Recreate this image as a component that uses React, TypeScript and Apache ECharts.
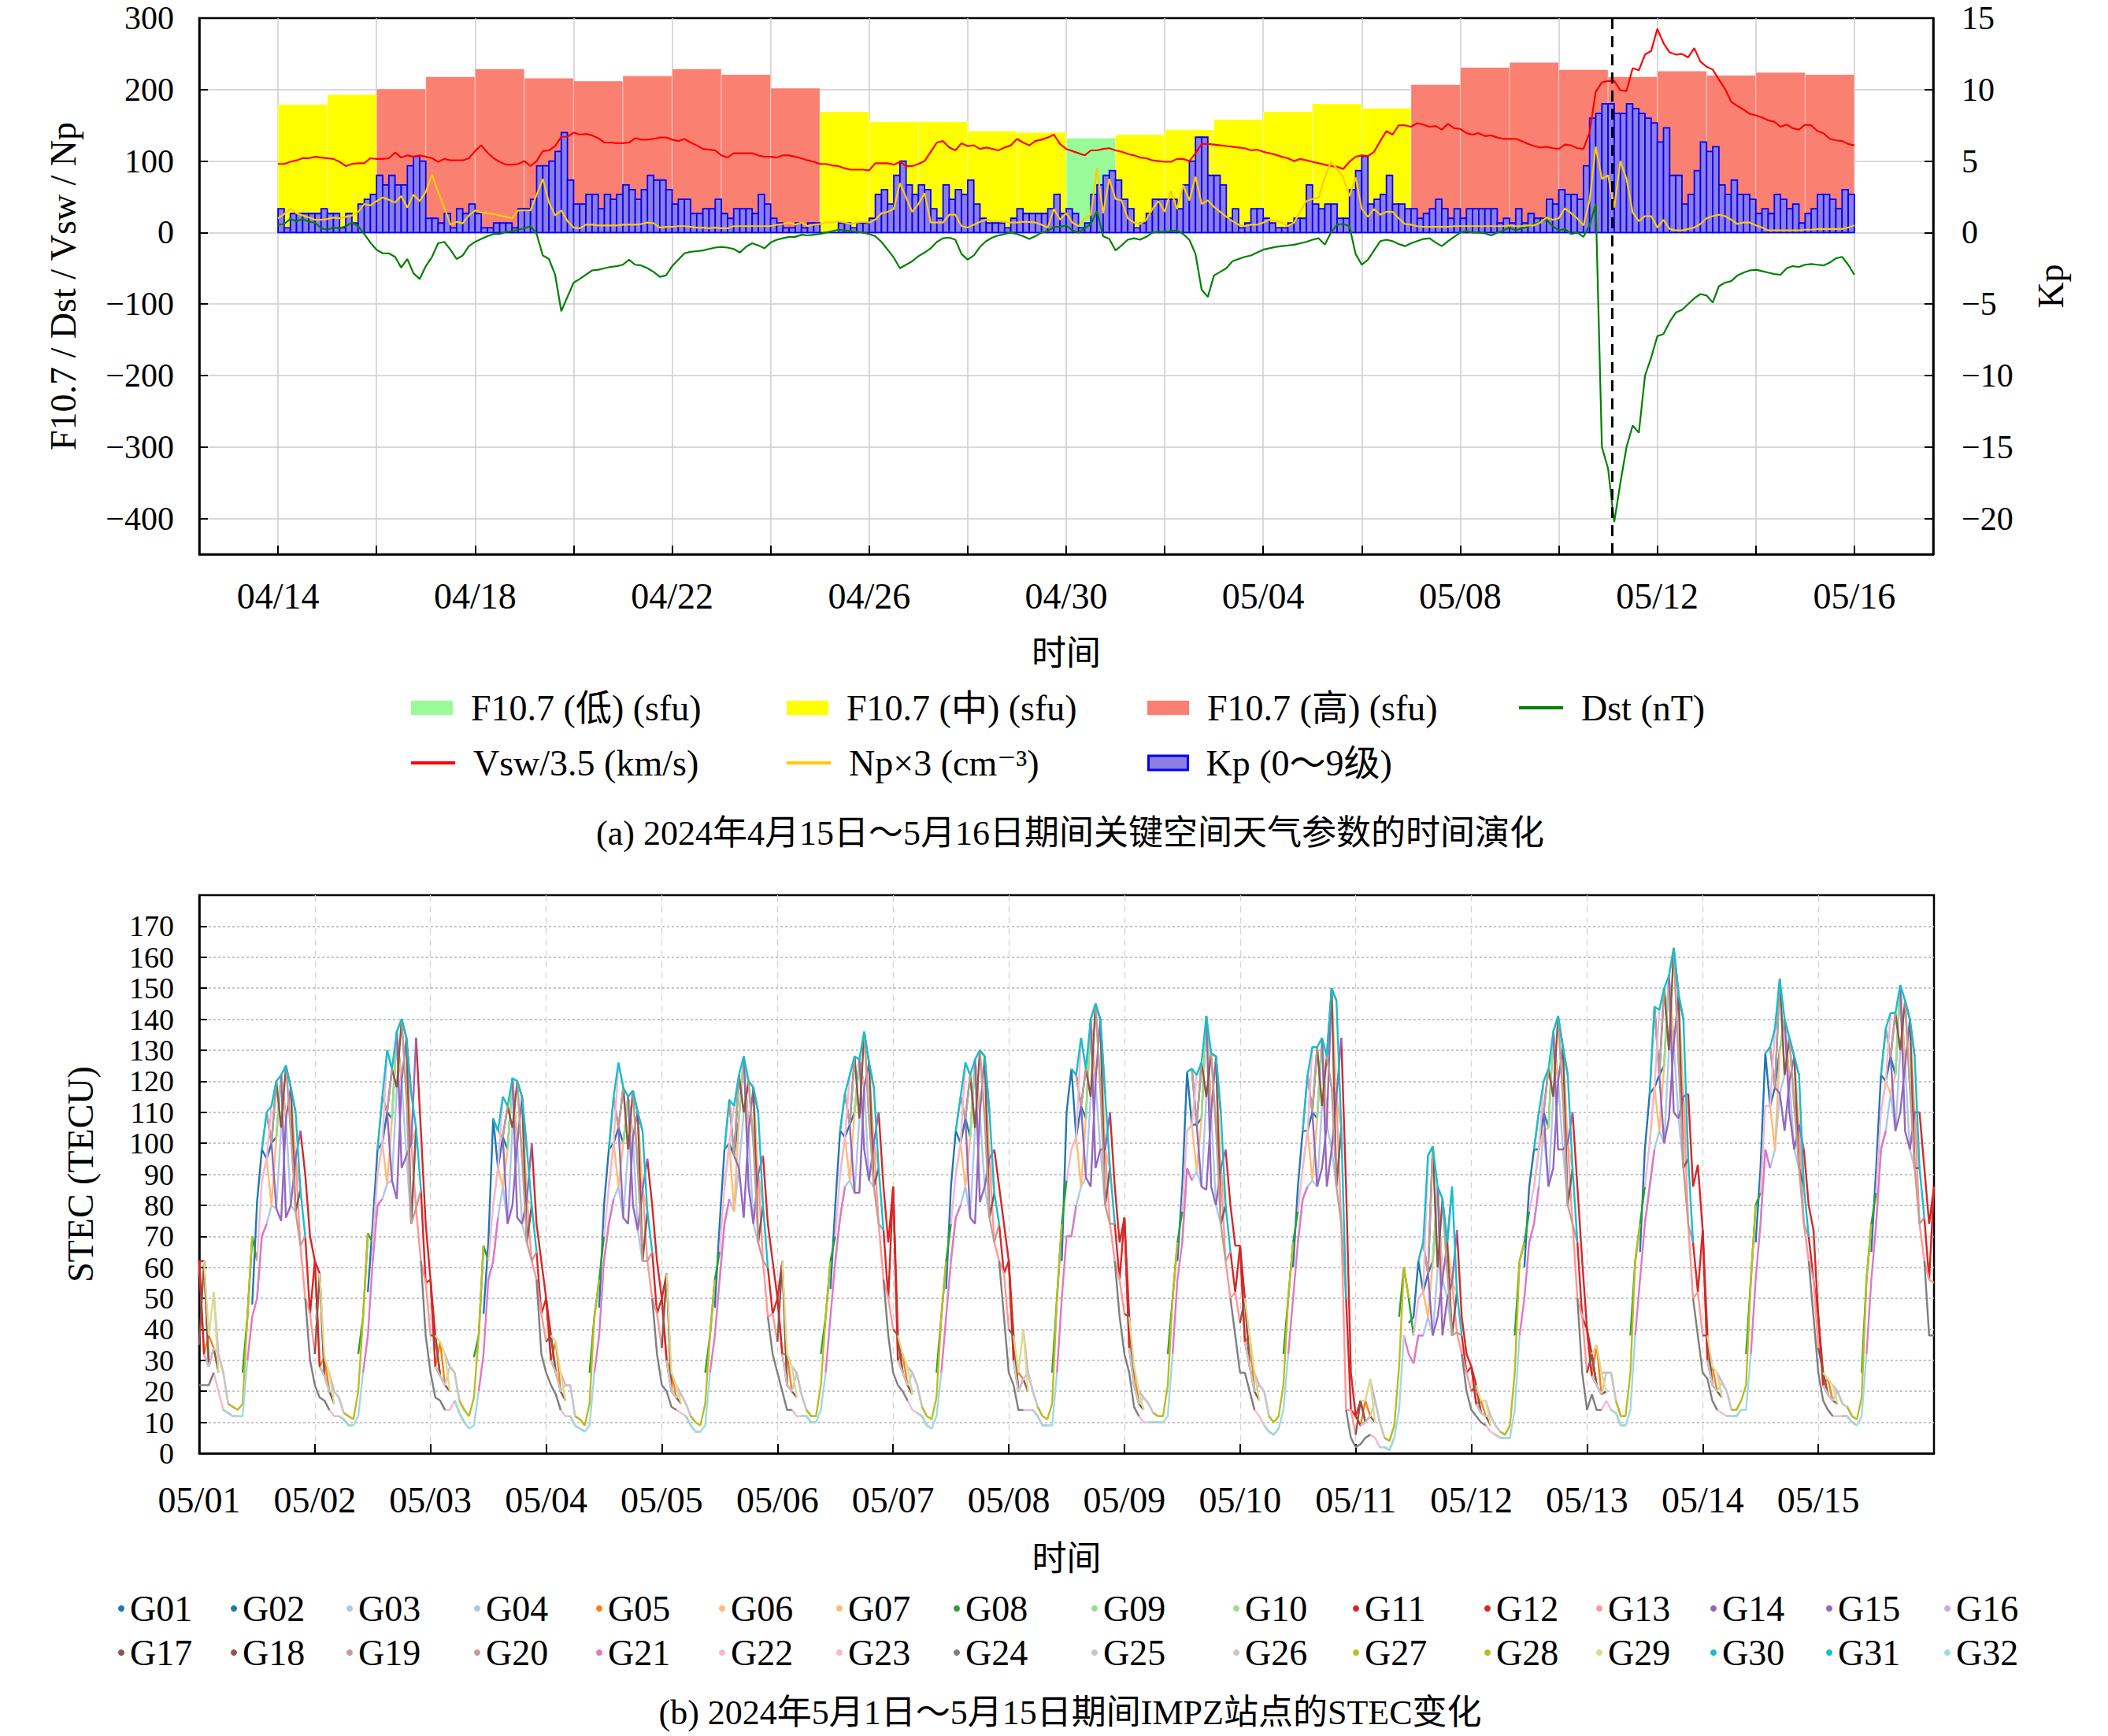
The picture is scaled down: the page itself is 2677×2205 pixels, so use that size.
import React, { useEffect, useRef } from "react";
import * as echarts from "echarts";

// ---------------- Panel (a) data ----------------
// Daily F10.7 (sfu), 2024-04-14 .. 2024-05-15
const F107_DAILY = [179, 193, 201, 218, 229, 216, 212, 219, 229, 221, 202, 169, 155, 155, 142, 140,
  132, 137, 144, 158, 169, 180, 174, 207, 231, 238, 228, 218, 226, 220, 224, 221];
const F107_LOW_MAX = 135;
const F107_HIGH_MIN = 200;

// 3-hourly Kp, 2024-04-14 00UT .. 2024-05-15 21UT
const KP_3H = [
  1.67, 0.33, 1.33, 1.33, 1.33, 1.33, 1.33, 1.67,
  1.33, 1.33, 0.33, 1.33, 0.67, 2.0, 2.33, 2.67,
  4.0, 3.33, 4.0, 3.33, 3.33, 4.67, 5.33, 5.0,
  1.0, 1.0, 0.67, 1.33, 0.33, 1.67, 1.33, 2.0,
  1.33, 0.33, 0.33, 0.67, 0.67, 0.67, 0.33, 1.67,
  1.67, 2.33, 4.67, 4.67, 5.0, 5.67, 7.0, 3.67,
  2.0, 2.0, 2.67, 2.67, 1.67, 2.67, 2.33, 2.67,
  3.33, 3.0, 2.33, 3.0, 4.0, 3.67, 3.67, 3.0,
  2.0, 2.33, 2.33, 1.33, 1.33, 1.67, 1.67, 2.33,
  1.33, 1.0, 1.67, 1.67, 1.67, 1.33, 2.67, 2.0,
  1.0, 0.67, 0.33, 0.33, 0.67, 0.33, 0.67, 0.67,
  0, 0, 0, 0.67, 0.67, 0.33, 0.67, 0.67,
  1.0, 2.67, 3.0, 2.0, 4.0, 5.0, 3.33, 2.67,
  3.33, 3.0, 1.67, 1.0, 3.33, 2.33, 3.0, 2.67,
  3.67, 2.0, 1.0, 0.67, 0.67, 0.67, 0.33, 1.0,
  1.67, 1.33, 1.33, 1.33, 1.33, 1.67, 2.67, 1.33,
  1.67, 1.33, 0.33, 0.67, 2.67, 3.33, 4.0, 4.33,
  3.67, 2.33, 1.67, 0.33, 0.67, 1.33, 2.33, 2.33,
  2.33, 2.33, 1.67, 3.33, 5.0, 6.67, 6.67, 4.0,
  4.0, 3.33, 1.0, 1.67, 0.33, 0.67, 1.67, 1.67,
  1.0, 0.67, 0.33, 0.33, 0.67, 1.0, 1.0, 3.33,
  2.0, 1.67, 2.0, 2.0, 1.0, 1.0, 3.0, 4.33,
  5.33, 2.0, 2.33, 2.67, 4.0, 2.0, 2.0, 1.67,
  1.67, 1.0, 1.33, 1.67, 2.33, 1.67, 1.0, 1.67,
  1.0, 1.67, 1.67, 1.67, 1.67, 1.67, 0.67, 1.0,
  0.67, 1.67, 0.67, 1.33, 1.0, 1.0, 2.33, 2.0,
  3.0, 2.67, 2.67, 2.33, 4.67, 8.0, 8.33, 9.0,
  9.0, 8.33, 8.33, 9.0, 8.67, 8.33, 8.0, 7.67,
  6.33, 7.33, 4.0, 4.0, 2.0, 2.67, 4.33, 6.33,
  5.67, 6.0, 3.33, 2.67, 3.67, 2.67, 2.67, 2.33,
  1.33, 1.67, 1.33, 2.67, 2.33, 1.67, 2.0, 0.67,
  1.33, 1.67, 2.67, 2.67, 2.33, 1.67, 3.0, 2.67,
];

// 3-hourly samples, 2024-04-14 00UT .. 2024-05-16 00UT
const VSW_DIV_3_5 = [
  96, 96, 99, 101, 104, 104, 106, 105, 104, 103, 99, 93, 96, 97, 97, 104,
  103, 103, 104, 112, 105, 108, 106, 108, 106, 104, 99, 103, 101, 101, 101, 104,
  114, 122, 112, 104, 99, 95, 95, 96, 100, 93, 100, 114, 115, 121, 134, 134,
  140, 137, 138, 136, 132, 126, 126, 125, 125, 126, 132, 130, 130, 131, 133, 133,
  130, 128, 131, 126, 122, 117, 116, 115, 108, 105, 111, 111, 111, 111, 108, 106,
  106, 105, 108, 108, 106, 104, 101, 99, 96, 96, 94, 93, 90, 88, 88, 88,
  87, 97, 97, 97, 95, 99, 93, 93, 96, 100, 113, 126, 128, 119, 115, 125,
  121, 122, 117, 119, 117, 115, 119, 122, 131, 126, 122, 128, 130, 133, 137, 124,
  117, 114, 111, 108, 115, 115, 117, 118, 115, 113, 110, 108, 105, 104, 101, 100,
  99, 99, 103, 103, 100, 111, 124, 124, 123, 122, 121, 120, 119, 118, 115, 116,
  113, 111, 109, 106, 104, 100, 103, 101, 99, 97, 95, 93, 92, 89, 99, 106,
  108, 107, 113, 128, 142, 137, 150, 150, 148, 153, 151, 148, 149, 144, 152, 146,
  145, 139, 137, 139, 135, 136, 133, 131, 131, 131, 128, 124, 121, 119, 120, 118,
  117, 123, 122, 118, 117, 140, 197, 210, 212, 212, 199, 198, 230, 227, 249, 254,
  285, 265, 252, 249, 250, 245, 258, 239, 232, 228, 214, 201, 183, 177, 172, 166,
  164, 161, 157, 155, 148, 151, 146, 144, 151, 150, 142, 139, 131, 129, 128, 124,
  122,
];

const NP_X3 = [
  20, 26, 33, 27, 24, 21, 18, 18, 19, 21, 20, 22, 24, 29, 40, 38,
  44, 49, 46, 42, 51, 35, 53, 44, 57, 81, 57, 35, 11, 15, 13, 24,
  31, 28, 27, 26, 24, 22, 20, 31, 31, 31, 53, 75, 42, 24, 31, 16,
  7, 6, 11, 11, 10, 10, 10, 10, 11, 11, 11, 12, 14, 13, 7, 8,
  8, 9, 9, 8, 7, 7, 6, 7, 6, 6, 9, 9, 9, 9, 9, 9,
  9, 11, 12, 14, 11, 14, 9, 11, 12, 14, 14, 16, 14, 12, 14, 15,
  14, 18, 27, 29, 33, 69, 49, 29, 40, 55, 14, 14, 14, 25, 25, 9,
  7, 11, 15, 18, 16, 16, 15, 14, 14, 15, 15, 14, 11, 7, 33, 18,
  27, 14, 9, 20, 25, 90, 27, 75, 47, 45, 20, 14, 12, 18, 33, 44,
  29, 58, 33, 66, 45, 78, 40, 45, 36, 29, 22, 16, 11, 9, 11, 11,
  14, 18, 16, 14, 9, 14, 29, 44, 47, 49, 77, 99, 89, 77, 51, 77,
  33, 22, 33, 25, 29, 29, 20, 12, 11, 9, 8, 8, 8, 8, 8, 9,
  9, 9, 9, 9, 9, 9, 9, 9, 10, 9, 9, 10, 10, 14, 21, 18,
  20, 34, 27, 20, 10, 45, 120, 75, 80, 35, 100, 75, 28, 16, 23, 23,
  7, 18, 5, 3, 3, 5, 7, 12, 20, 23, 25, 23, 18, 12, 14, 14,
  10, 7, 3, 3, 3, 3, 3, 3, 4, 4, 5, 5, 5, 5, 5, 7,
  10,
];

const DST = [
  11, 12, 19, 16, 19, 15, 14, 6, 4, 7, 6, 9, 14, 9, -2, -14,
  -24, -29, -29, -34, -49, -37, -57, -65, -47, -34, -15, -13, -24, -37, -32, -19,
  -13, -9, -5, -2, -2, 1, 2, 4, 6, 9, -2, -32, -37, -59, -110, -90,
  -70, -65, -59, -53, -52, -50, -48, -47, -45, -38, -45, -46, -50, -55, -62, -60,
  -47, -38, -29, -27, -26, -25, -23, -21, -20, -21, -23, -28, -20, -15, -18, -22,
  -14, -10, -8, -6, -6, -3, -4, -3, -2, 0, 2, 4, 3, 2, 1, 0,
  -2, -5, -13, -24, -35, -50, -45, -40, -33, -28, -22, -13, -8, -7, -10, -30,
  -38, -32, -20, -12, -7, -4, -2, 0, -2, -5, -9, -5, 0, 2, 8, 8,
  10, 3, 0, 6, 12, 30, -5, -9, -25, -18, -10, -8, -10, -6, 0, 1,
  1, 2, 3, -2, -10, -30, -80, -90, -60, -55, -50, -40, -37, -34, -32, -28,
  -24, -22, -20, -19, -18, -17, -15, -13, -10, -8, -17, 0, 11, 12, 9, -30,
  -45, -38, -25, -12, -10, -12, -16, -19, -15, -12, -9, -8, -14, -19, -12, -6,
  0, 2, 0, 0, -1, -4, 0, 3, 7, 3, 6, 8, 12, 15, 18, 9,
  3, 5, -2, 0, -6, 10, 40, -300, -330, -405, -350, -300, -270, -280, -200, -175,
  -145, -142, -125, -112, -108, -100, -92, -86, -88, -98, -75, -70, -68, -60, -56, -53,
  -52, -54, -56, -58, -59, -50, -47, -48, -45, -44, -45, -46, -42, -36, -34, -45,
  -59,
];

// Dst minimum marker: 2024-05-11 02:00 UT, in days after 04-14 00UT
const STORM_MARK_DAY = 27 + 2 / 24;

const TOP_START_UTC = Date.UTC(2024, 3, 14);
const BOTTOM_START_UTC = Date.UTC(2024, 4, 1);

// ---------------- Panel (b) data ----------------
const SATS = ["G01", "G02", "G03", "G04", "G05", "G06", "G07", "G08", "G09", "G10", "G11", "G12", "G13", "G14", "G15", "G16",
  "G17", "G18", "G19", "G20", "G21", "G22", "G23", "G24", "G25", "G26", "G27", "G28", "G29", "G30", "G31", "G32"];
const SAT_COLORS = ["#1f77b4", "#1f77b4", "#aec7e8", "#aec7e8", "#ff7f0e", "#ffbb78", "#ffbb78", "#2ca02c",
  "#98df8a", "#98df8a", "#d62728", "#d62728", "#ff9896", "#9467bd", "#9467bd", "#c5b0d5",
  "#8c564b", "#8c564b", "#c49c94", "#c49c94", "#e377c2", "#f7b6d2", "#f7b6d2", "#7f7f7f",
  "#c7c7c7", "#c7c7c7", "#bcbd22", "#bcbd22", "#dbdb8d", "#17becf", "#17becf", "#9edae5"];
// Daily visibility window of each satellite: [first UT hour, track level per hour (H/M/L)]
const SAT_PASSES: [number, string][] = [
  [11, "MHHMMH"], [14, "HMMHM"], [12, "LLLLLM"], [18, "MLLM"], [0, "HMHM"], [13, "MMLMHM"], [19, "HMM"], [9, "HHHM"],
  [15, "HHM"], [16, "MHHM"], [21, "HHHHMM"], [22, "MMHHM"], [19, "MMLLMM"], [15, "MLLMHH"], [17, "HLLMH"], [3, "HHHMM"],
  [16, "HMHHLM"], [0, "MHMMM"], [18, "HMLLM"], [13, "HHMH"], [10, "LLLLL"], [2, "LLLLLL"], [12, "MMMH"], [22, "LLLLLL"],
  [1, "MMMHH"], [4, "HHMMM"], [6, "MMMMHH"], [5, "LLLL"], [1, "HHHM"], [13, "HHHHHHH"], [19, "HHMM"], [5, "LLLLLL"],
];

// Hourly STEC levels (TECU), 05-01 00UT .. 05-16 00UT
const STEC_LOW = [
  22, 22, 22, 26, 20, 14, 13, 12, 12, 12, 30, 44, 50, 70, 74, 80, 79, 75, 76, 80, 78, 67, 50, 30,
  22, 18, 17, 14, 12, 12, 11, 9, 9, 12, 26, 38, 62, 80, 82, 87, 88, 82, 92, 96, 74, 79, 62, 38,
  26, 18, 17, 14, 14, 17, 13, 10, 8, 9, 20, 32, 56, 62, 76, 86, 74, 80, 76, 74, 68, 62, 56, 32,
  26, 22, 19, 14, 12, 12, 9, 8, 7, 9, 26, 38, 62, 74, 82, 86, 76, 74, 80, 72, 62, 62, 50, 32,
  22, 20, 15, 14, 13, 12, 9, 7, 7, 9, 26, 38, 56, 74, 82, 78, 92, 76, 86, 74, 68, 62, 44, 32,
  26, 20, 14, 14, 12, 12, 12, 10, 10, 14, 26, 44, 62, 76, 86, 88, 84, 84, 98, 88, 86, 74, 56, 38,
  26, 22, 20, 17, 14, 13, 12, 9, 8, 12, 26, 44, 62, 76, 80, 86, 76, 74, 81, 86, 76, 68, 62, 44,
  26, 22, 14, 14, 14, 14, 12, 9, 9, 9, 26, 50, 70, 70, 80, 86, 89, 86, 92, 98, 80, 74, 62, 44,
  32, 26, 15, 12, 10, 10, 10, 10, 10, 12, 32, 56, 68, 92, 88, 91, 86, 85, 86, 80, 74, 62, 50, 38,
  26, 26, 20, 14, 12, 9, 7, 6, 8, 14, 32, 50, 68, 82, 86, 88, 86, 92, 86, 98, 86, 74, 14, 5,
  2, 3, 5, 6, 5, 2, 2, 1, 5, 14, 38, 32, 29, 38, 38, 44, 38, 44, 38, 50, 38, 39, 32, 20,
  14, 12, 10, 9, 7, 6, 5, 5, 5, 14, 38, 50, 68, 74, 86, 104, 86, 92, 98, 98, 80, 74, 50, 26,
  14, 19, 14, 14, 17, 14, 13, 9, 9, 14, 38, 56, 74, 86, 98, 104, 100, 108, 110, 108, 92, 74, 50, 38,
  26, 24, 17, 14, 13, 12, 12, 12, 14, 14, 32, 56, 74, 98, 92, 98, 116, 104, 110, 98, 92, 74, 62, 44,
  26, 17, 14, 12, 12, 12, 12, 10, 9, 12, 32, 56, 74, 98, 104, 116, 104, 110, 104, 98, 92, 74, 62, 38,
  38,
];
const STEC_MID = [
  35, 32, 28, 34, 26, 20, 16, 15, 14, 16, 38, 48, 62, 88, 95, 100, 102, 105, 108, 104, 95, 85, 70, 45,
  32, 28, 25, 20, 16, 14, 13, 12, 11, 20, 35, 52, 68, 90, 100, 110, 108, 118, 120, 115, 100, 105, 85, 55,
  38, 28, 25, 22, 20, 20, 17, 14, 12, 18, 30, 45, 62, 80, 92, 102, 98, 105, 100, 95, 82, 80, 65, 45,
  36, 30, 26, 20, 17, 16, 12, 11, 9, 16, 35, 47, 70, 86, 100, 105, 100, 98, 102, 92, 85, 78, 65, 45,
  34, 30, 20, 18, 16, 14, 12, 10, 9, 16, 32, 47, 65, 86, 100, 96, 108, 110, 104, 100, 90, 80, 60, 45,
  36, 32, 22, 20, 18, 15, 14, 12, 12, 22, 35, 53, 70, 90, 102, 106, 110, 108, 118, 108, 100, 92, 72, 50,
  40, 30, 26, 22, 19, 17, 15, 12, 11, 18, 35, 53, 74, 90, 100, 108, 102, 105, 110, 108, 95, 84, 74, 58,
  40, 30, 20, 24, 20, 17, 15, 12, 11, 16, 38, 62, 88, 98, 102, 112, 108, 115, 120, 118, 98, 92, 74, 56,
  45, 34, 22, 16, 14, 13, 13, 12, 12, 22, 42, 62, 78, 104, 106, 106, 108, 115, 110, 105, 92, 80, 65, 52,
  42, 36, 28, 20, 17, 14, 12, 10, 12, 22, 42, 60, 78, 92, 104, 110, 108, 112, 106, 118, 115, 105, 50, 14,
  6, 9, 10, 12, 10, 6, 5, 4, 9, 28, 48, 42, 38, 50, 52, 58, 62, 60, 56, 58, 55, 52, 38, 26,
  20, 16, 13, 12, 9, 7, 7, 6, 9, 26, 50, 60, 78, 86, 98, 110, 105, 115, 120, 114, 100, 92, 68, 44,
  26, 25, 22, 19, 20, 19, 17, 12, 12, 26, 50, 65, 86, 100, 118, 122, 125, 130, 132, 126, 115, 95, 68, 52,
  38, 30, 22, 20, 18, 16, 14, 14, 17, 22, 44, 68, 84, 112, 112, 118, 130, 122, 120, 112, 106, 86, 70, 56,
  34, 22, 19, 17, 16, 14, 15, 12, 11, 18, 44, 65, 84, 110, 120, 128, 122, 130, 125, 118, 110, 92, 76, 56,
  55,
];
const STEC_HIGH = [
  62, 62, 38, 52, 32, 26, 20, 19, 20, 26, 44, 70, 81, 98, 110, 112, 120, 122, 125, 118, 110, 104, 90, 70,
  62, 58, 31, 26, 20, 18, 15, 15, 14, 32, 44, 71, 74, 98, 115, 130, 124, 136, 140, 134, 116, 134, 104, 74,
  56, 38, 36, 32, 28, 26, 22, 20, 16, 31, 38, 67, 68, 108, 104, 115, 112, 121, 120, 115, 98, 100, 74, 62,
  50, 38, 36, 26, 22, 22, 16, 14, 12, 26, 44, 56, 80, 98, 115, 126, 118, 115, 117, 110, 104, 95, 80, 62,
  50, 58, 26, 22, 19, 16, 15, 14, 12, 26, 38, 56, 74, 98, 114, 112, 122, 128, 120, 118, 110, 96, 74, 62,
  50, 62, 32, 28, 26, 19, 16, 15, 14, 32, 44, 62, 80, 104, 116, 122, 128, 127, 136, 126, 118, 110, 86, 68,
  86, 38, 32, 28, 26, 22, 19, 16, 14, 26, 44, 62, 86, 104, 115, 126, 122, 127, 130, 128, 110, 98, 86, 74,
  62, 38, 26, 40, 26, 20, 18, 15, 14, 26, 50, 74, 110, 124, 122, 134, 124, 140, 145, 140, 116, 110, 86, 68,
  76, 44, 28, 20, 18, 16, 16, 15, 14, 32, 50, 68, 86, 123, 124, 122, 126, 141, 129, 128, 110, 98, 80, 67,
  67, 50, 38, 26, 22, 20, 18, 14, 16, 32, 50, 68, 86, 104, 122, 131, 131, 134, 128, 150, 146, 134, 86, 26,
  12, 17, 17, 24, 17, 10, 9, 9, 14, 44, 60, 50, 44, 62, 68, 96, 99, 86, 82, 68, 86, 72, 44, 32,
  28, 22, 17, 17, 12, 9, 9, 8, 14, 38, 62, 68, 86, 98, 110, 120, 124, 136, 141, 131, 122, 110, 86, 62,
  40, 32, 35, 26, 26, 26, 22, 14, 14, 38, 62, 74, 98, 116, 144, 143, 150, 154, 163, 148, 140, 116, 86, 93,
  72, 38, 28, 26, 23, 20, 16, 16, 20, 32, 56, 80, 92, 129, 131, 137, 153, 140, 134, 128, 122, 98, 80, 72,
  44, 26, 24, 22, 20, 16, 19, 15, 14, 26, 56, 74, 92, 122, 137, 142, 142, 151, 146, 140, 128, 110, 92, 74,
  86,
];

// ---------------- Texts ----------------
const CAPTION_A = "(a) 2024年4月15日～5月16日期间关键空间天气参数的时间演化";
const CAPTION_B = "(b) 2024年5月1日～5月15日期间IMPZ站点的STEC变化";
const NAME_LOW = "F10.7 (低) (sfu)";
const NAME_MID = "F10.7 (中) (sfu)";
const NAME_HIGH = "F10.7 (高) (sfu)";
const NAME_DST = "Dst (nT)";
const NAME_VSW = "Vsw/3.5 (km/s)";
const NAME_NP = "Np×3 (cm⁻³)";
const NAME_KP = "Kp (0～9级)";

const FONT = "'Liberation Serif', 'DejaVu Serif', 'Noto Sans CJK SC', serif";
const FS = 46;
const FS_CAP = 44;
const FS_YTOP = 42;
const FS_YSTEC = 38;
const KP_FILL = "#8e7de3";

function mmdd(startUtc: number, dayOffset: number) {
  const d = new Date(startUtc + Math.round(dayOffset) * 86400000);
  const m = String(d.getUTCMonth() + 1).padStart(2, "0");
  const dd = String(d.getUTCDate()).padStart(2, "0");
  return m + "/" + dd;
}
const minus = (v: number) => String(v).replace("-", "\u2212");

function buildOption() {
  const step3h = 1 / 8;
  const lineData = (arr: number[]) => arr.map((v, i) => [i * step3h, v]);
  const fClass = (v: number) => (v < F107_LOW_MAX ? 0 : v < F107_HIGH_MIN ? 1 : 2);
  const f107Series = [
    { name: NAME_LOW, color: "#98fb98", cls: 0 },
    { name: NAME_MID, color: "#ffff00", cls: 1 },
    { name: NAME_HIGH, color: "#fa8072", cls: 2 },
  ].map((s) => ({
    type: "custom",
    name: s.name,
    xAxisIndex: 0,
    yAxisIndex: 0,
    color: s.color,
    z: 1,
    encode: { x: 0, y: 1 },
    data: F107_DAILY.map((v, d) => [d, v]).filter((p) => fClass(p[1]) === s.cls),
    renderItem: (params: any, api: any) => {
      const x = api.value(0);
      const v = api.value(1);
      const a = api.coord([x, 0]);
      const b = api.coord([x + 1, v]);
      return {
        type: "rect",
        shape: { x: a[0], y: b[1], width: b[0] - a[0], height: a[1] - b[1] },
        style: { fill: s.color, stroke: "rgba(255,255,255,0.45)", lineWidth: 1 },
      };
    },
  }));

  const kpSeries = {
    type: "custom",
    name: NAME_KP,
    xAxisIndex: 0,
    yAxisIndex: 1,
    color: KP_FILL,
    z: 2,
    encode: { x: 0, y: 1 },
    data: KP_3H.map((v, i) => [i * step3h, v]),
    renderItem: (params: any, api: any) => {
      const x = api.value(0);
      const v = api.value(1);
      const a = api.coord([x, 0]);
      const b = api.coord([x + step3h, v]);
      return {
        type: "rect",
        shape: { x: a[0], y: Math.min(a[1], b[1]), width: b[0] - a[0], height: Math.abs(a[1] - b[1]) },
        style: { fill: KP_FILL, stroke: "#0000ff", lineWidth: 1.8 },
      };
    },
  };

  const lineSeries = (name: string, color: string, arr: number[], extra: any = {}) => ({
    type: "line",
    name,
    xAxisIndex: 0,
    yAxisIndex: 0,
    color,
    z: 3,
    symbol: "none",
    showSymbol: false,
    lineStyle: { color, width: 2.2 },
    data: lineData(arr),
    ...extra,
  });

  const dstSeries = lineSeries(NAME_DST, "#008000", DST, {
    markLine: {
      silent: true,
      symbol: ["none", "none"],
      label: { show: false },
      lineStyle: { color: "#000", type: [14, 9], width: 3 },
      data: [{ xAxis: STORM_MARK_DAY }],
    },
  });
  const vswSeries = lineSeries(NAME_VSW, "#ff0000", VSW_DIV_3_5);
  const npSeries = lineSeries(NAME_NP, "#ffcc00", NP_X3);

  const curves: Record<string, number[]> = { L: STEC_LOW, M: STEC_MID, H: STEC_HIGH };
  const nHours = STEC_MID.length - 1;
  const stecSeries = SATS.map((name, s) => {
    const [start, pattern] = SAT_PASSES[s];
    const data: any[] = [];
    for (let d = -1; d < 16; d++) {
      let any = false;
      for (let k = 0; k < pattern.length; k++) {
        const g = d * 24 + start + k;
        if (g < 0 || g > nHours) continue;
        data.push([g / 24, curves[pattern[k]][g]]);
        any = true;
      }
      if (any) data.push([(d * 24 + start + pattern.length) / 24, "-"]);
    }
    return {
      type: "line",
      name,
      xAxisIndex: 1,
      yAxisIndex: 2,
      color: SAT_COLORS[s],
      symbol: "none",
      showSymbol: false,
      connectNulls: false,
      lineStyle: { width: 2.4, color: SAT_COLORS[s] },
      data,
    };
  });

  const txt = { fontFamily: FONT, fontSize: FS, color: "#000" };
  const capTxt = { fontFamily: FONT, fontSize: FS_CAP, color: "#000", fontWeight: "normal" };
  const tick = { show: true, inside: true, length: 11, lineStyle: { color: "#000", width: 2 } };
  const axisLine = { show: true, onZero: false, lineStyle: { color: "#000", width: 2.5 } };
  const noEdgeLines = { showMinLine: false, showMaxLine: false };

  // legends for panel (a)
  const rowA1 = 876, rowA2 = 946;
  const topLegendDefs = [
    { name: NAME_LOW, left: 522, top: rowA1, w: 53, h: 18, style: { color: "#98fb98" } },
    { name: NAME_MID, left: 999, top: rowA1, w: 53, h: 18, style: { color: "#ffff00" } },
    { name: NAME_HIGH, left: 1457, top: rowA1, w: 53, h: 18, style: { color: "#fa8072" } },
    { name: NAME_DST, left: 1929, top: rowA1, w: 56, h: 4, style: { color: "#008000" } },
    { name: NAME_VSW, left: 522, top: rowA2, w: 56, h: 4, style: { color: "#ff0000" } },
    { name: NAME_NP, left: 999, top: rowA2, w: 56, h: 4, style: { color: "#ffcc00" } },
    { name: NAME_KP, left: 1457, top: rowA2, w: 50, h: 18, style: { color: KP_FILL, borderColor: "#0000ff", borderWidth: 3 } },
  ];
  const legendCols = [150, 293, 440, 602, 757, 913, 1062, 1211, 1386, 1566, 1718, 1885, 2027, 2172, 2319, 2469];
  const rowB = [2020, 2076];
  const legends: any[] = topLegendDefs.map((l) => ({
    left: l.left,
    top: l.top,
    padding: 0,
    itemWidth: l.w,
    itemHeight: l.h,
    selectedMode: false,
    textStyle: { ...txt, padding: [0, 0, 0, 18] },
    data: [{ name: l.name, icon: "rect", itemStyle: l.style }],
  }));
  SATS.forEach((name, s) => {
    legends.push({
      left: legendCols[s % 16],
      top: rowB[Math.floor(s / 16)],
      padding: 0,
      itemWidth: 8,
      itemHeight: 8,
      selectedMode: false,
      textStyle: { ...txt, padding: [0, 0, 0, 2] },
      data: [{ name, icon: "circle" }],
    });
  });

  return {
    animation: false,
    backgroundColor: "#ffffff",
    textStyle: { fontFamily: FONT },
    title: [
      { text: CAPTION_A, left: 1354, top: 1053, textAlign: "center", textVerticalAlign: "middle", textStyle: capTxt },
      { text: CAPTION_B, left: 1354, top: 2170, textAlign: "center", textVerticalAlign: "middle", textStyle: capTxt },
    ],
    legend: legends,
    grid: [
      { left: 253, right: 222, top: 23, height: 681, show: true, borderColor: "#000", borderWidth: 2.5 },
      { left: 253, right: 221, top: 1137, height: 709, show: true, borderColor: "#000", borderWidth: 2.5 },
    ],
    xAxis: [
      {
        type: "value",
        gridIndex: 0,
        min: -1.6,
        max: 33.6,
        splitNumber: 17,
        axisLine,
        axisTick: tick,
        axisLabel: {
          ...txt,
          margin: 30,
          formatter: (v: number) => {
            const r = Math.round(v);
            if (Math.abs(v - r) > 1e-6 || r < 0 || r > 32 || r % 4 !== 0) return "";
            return mmdd(TOP_START_UTC, r);
          },
        },
        splitLine: { show: true, ...noEdgeLines, lineStyle: { color: "#cccccc", width: 1.5 } },
        name: "时间",
        nameLocation: "middle",
        nameGap: 104,
        nameTextStyle: capTxt,
      },
      {
        type: "value",
        gridIndex: 1,
        min: 0,
        max: 15,
        interval: 1,
        axisLine,
        axisTick: { ...tick, length: 12 },
        axisLabel: { ...txt, margin: 36, showMinLabel: true, showMaxLabel: false, formatter: (v: number) => (v >= 15 ? "" : mmdd(BOTTOM_START_UTC, v)) },
        splitLine: { show: true, ...noEdgeLines, lineStyle: { color: "#d4d4d4", width: 1.3, type: [8, 6] } },
        name: "时间",
        nameLocation: "middle",
        nameGap: 112,
        nameTextStyle: capTxt,
      },
    ],
    yAxis: [
      {
        type: "value",
        gridIndex: 0,
        position: "left",
        min: -450,
        max: 300,
        splitNumber: 8,
        axisLine,
        axisTick: tick,
        axisLabel: { ...txt, fontSize: FS_YTOP, lineHeight: 40, margin: 32, showMinLabel: false, showMaxLabel: true, formatter: (v: number) => minus(v) },
        splitLine: { show: true, ...noEdgeLines, lineStyle: { color: "#cccccc", width: 1.5 } },
        name: "F10.7 / Dst / Vsw / Np",
        nameLocation: "middle",
        nameRotate: 90,
        nameGap: 150,
        nameTextStyle: txt,
      },
      {
        type: "value",
        gridIndex: 0,
        position: "right",
        min: -22.5,
        max: 15,
        splitNumber: 8,
        axisLine,
        axisTick: tick,
        axisLabel: { ...txt, fontSize: FS_YTOP, lineHeight: 40, margin: 36, showMinLabel: false, showMaxLabel: true, formatter: (v: number) => minus(v) },
        splitLine: { show: false },
        name: "Kp",
        nameLocation: "middle",
        nameRotate: 90,
        nameGap: 126,
        nameTextStyle: txt,
      },
      {
        type: "value",
        gridIndex: 1,
        min: 0,
        max: 180,
        interval: 10,
        axisLine,
        axisTick: { ...tick, length: 10 },
        axisLabel: { ...txt, fontSize: FS_YSTEC, lineHeight: 36, margin: 32, hideOverlap: false, showMinLabel: true, showMaxLabel: false },
        splitLine: { show: true, ...noEdgeLines, lineStyle: { color: "#b4b4b4", width: 1.5, type: [3, 3] } },
        name: "STEC (TECU)",
        nameLocation: "middle",
        nameRotate: 90,
        nameGap: 128,
        nameTextStyle: txt,
      },
    ],
    series: [...f107Series, kpSeries, dstSeries, vswSeries, npSeries, ...stecSeries],
  };
}

export default function App() {
  const ref = useRef<HTMLDivElement>(null);
  useEffect(() => {
    if (!ref.current) return;
    const chart = echarts.init(ref.current, null, { renderer: "svg" });
    chart.setOption(buildOption() as any);
    return () => chart.dispose();
  }, []);
  return (
    <div
      ref={ref}
      style={{ position: "absolute", left: 0, top: 0, width: 2677, height: 2205, background: "#fff" }}
    />
  );
}
